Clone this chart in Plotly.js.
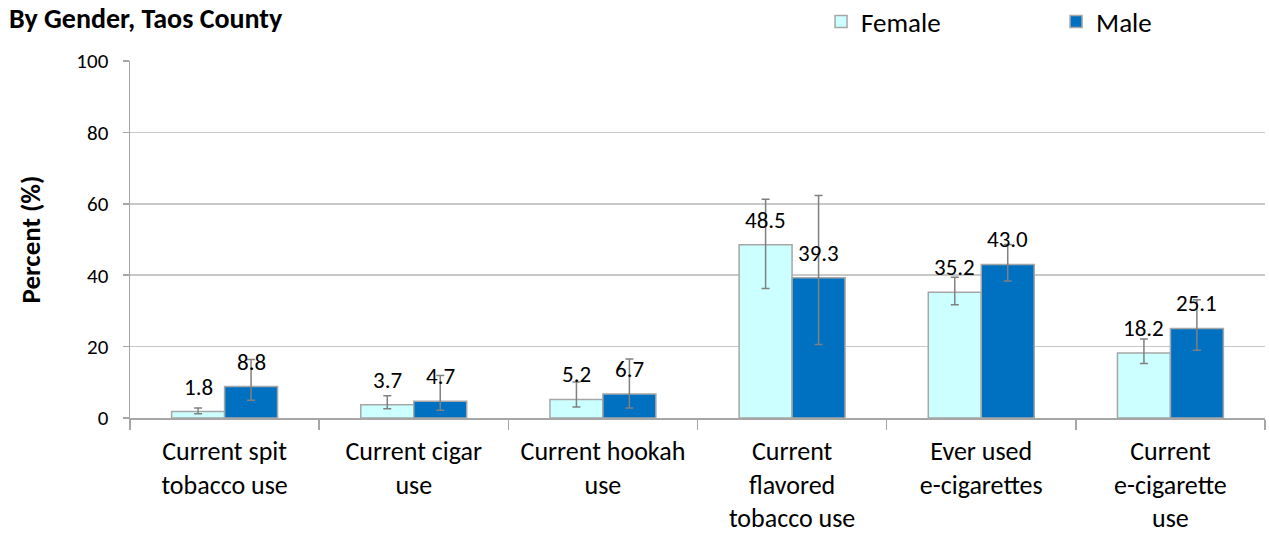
<!DOCTYPE html>
<html><head><meta charset="utf-8">
<script src="https://cdn.plot.ly/plotly-3.0.1.min.js"></script>
<style>body{margin:0;padding:0;background:#fff}#chart{width:1269px;height:536px}</style>
</head><body><div id="chart"></div>
<script>
const categories = ["Current spit<br>tobacco use","Current cigar<br>use","Current hookah<br>use","Current<br>flavored<br>tobacco use","Ever used<br>e-cigarettes","Current<br>e-cigarette<br>use"];
const femaleValues = [1.8, 3.7, 5.2, 48.5, 35.2, 18.2];
const femaleLower = [1.2, 2.6, 3.1, 36.3, 31.7, 15.3];
const femaleUpper = [2.8, 6.2, 10.1, 61.3, 39.4, 22.1];
const maleValues = [8.8, 4.7, 6.7, 39.3, 43.0, 25.1];
const maleLower = [5.0, 2.2, 2.8, 20.6, 38.4, 19.0];
const maleUpper = [16.4, 11.9, 16.5, 62.3, 48.6, 33.1];
const yTicks = [0, 20, 40, 60, 80, 100];

const font = "Carlito, Calibri, 'Open Sans', 'Liberation Sans', sans-serif";
const W = 1269, H = 536, ML = 130, MR = 4, MT = 61, MB = 118;
const plotW = W - ML - MR;
const bargap = 0.44;
const barPx = plotW / categories.length * (1 - bargap) / 2;

function mk(name, vals, lo, hi, fill){
  return {
    type:'bar', name:name, x:categories, y:vals,
    marker:{color:fill, line:{color:'#a6a6a6', width:1.5}},
    error_y:{type:'data', symmetric:false,
      array: hi.map((h,i)=>h-vals[i]), arrayminus: vals.map((v,i)=>v-lo[i]),
      color:'#808080', thickness:1.5, width:4},
    hoverinfo:'skip'
  };
}
const data = [
  mk('Female', femaleValues, femaleLower, femaleUpper, '#ccffff'),
  mk('Male', maleValues, maleLower, maleUpper, '#0070c0')
];
const labelAnns = [];
[[femaleValues, -1], [maleValues, 1]].forEach(([vals, side]) => {
  vals.forEach((v, i) => labelAnns.push({
    x: categories[i], y: v, xref:'x', yref:'y', xshift: side * barPx / 2, yshift: 25,
    text: v.toFixed(1), showarrow:false, xanchor:'center', yanchor:'middle',
    font:{size:23, color:'#000', family:font}
  }));
});

const layout = {
  width:W, height:H,
  margin:{l:ML, r:MR, t:MT, b:MB},
  paper_bgcolor:'#fff', plot_bgcolor:'#fff',
  font:{family:font, color:'#000'},
  barmode:'group', bargap:bargap, bargroupgap:0,
  showlegend:true,
  legend:{orientation:'h', xref:'container', yref:'container', x:0.647, y:1 - 22 / H, yanchor:'middle',
    bgcolor:'rgba(0,0,0,0)',
    font:{size:27, family:font}, entrywidth:190, traceorder:'normal', itemclick:false},
  annotations:[{text:'<b>By Gender, Taos County</b>', xref:'paper', yref:'paper', x:-122/1135, y:1, yshift:MT, yanchor:'top', xanchor:'left', showarrow:false, borderpad:0, font:{size:28, family:font}}].concat(labelAnns),
  xaxis:{type:'category', tickson:'boundaries', ticks:'outside', ticklen:10, tickcolor:'#a6a6a6', tickwidth:1.5,
    ticklabelstandoff:9,
    showline:true, linecolor:'#a6a6a6', linewidth:1.5, tickfont:{size:26, family:font}, automargin:false},
  yaxis:{range:[0,100], tickvals:yTicks, ticks:'outside', ticklen:6, tickcolor:'#a6a6a6', tickwidth:1.5,
    ticklabelstandoff:10,
    showline:true, linecolor:'#a6a6a6', linewidth:1.5, gridcolor:'#c8c8c8', gridwidth:1.5, zeroline:false,
    tickfont:{size:21, family:font},
    title:{text:'<b>Percent (%)</b>', font:{size:27, family:font}, standoff:28}, automargin:false}
};
Plotly.newPlot('chart', data, layout, {displayModeBar:false, staticPlot:true});
</script></body></html>
